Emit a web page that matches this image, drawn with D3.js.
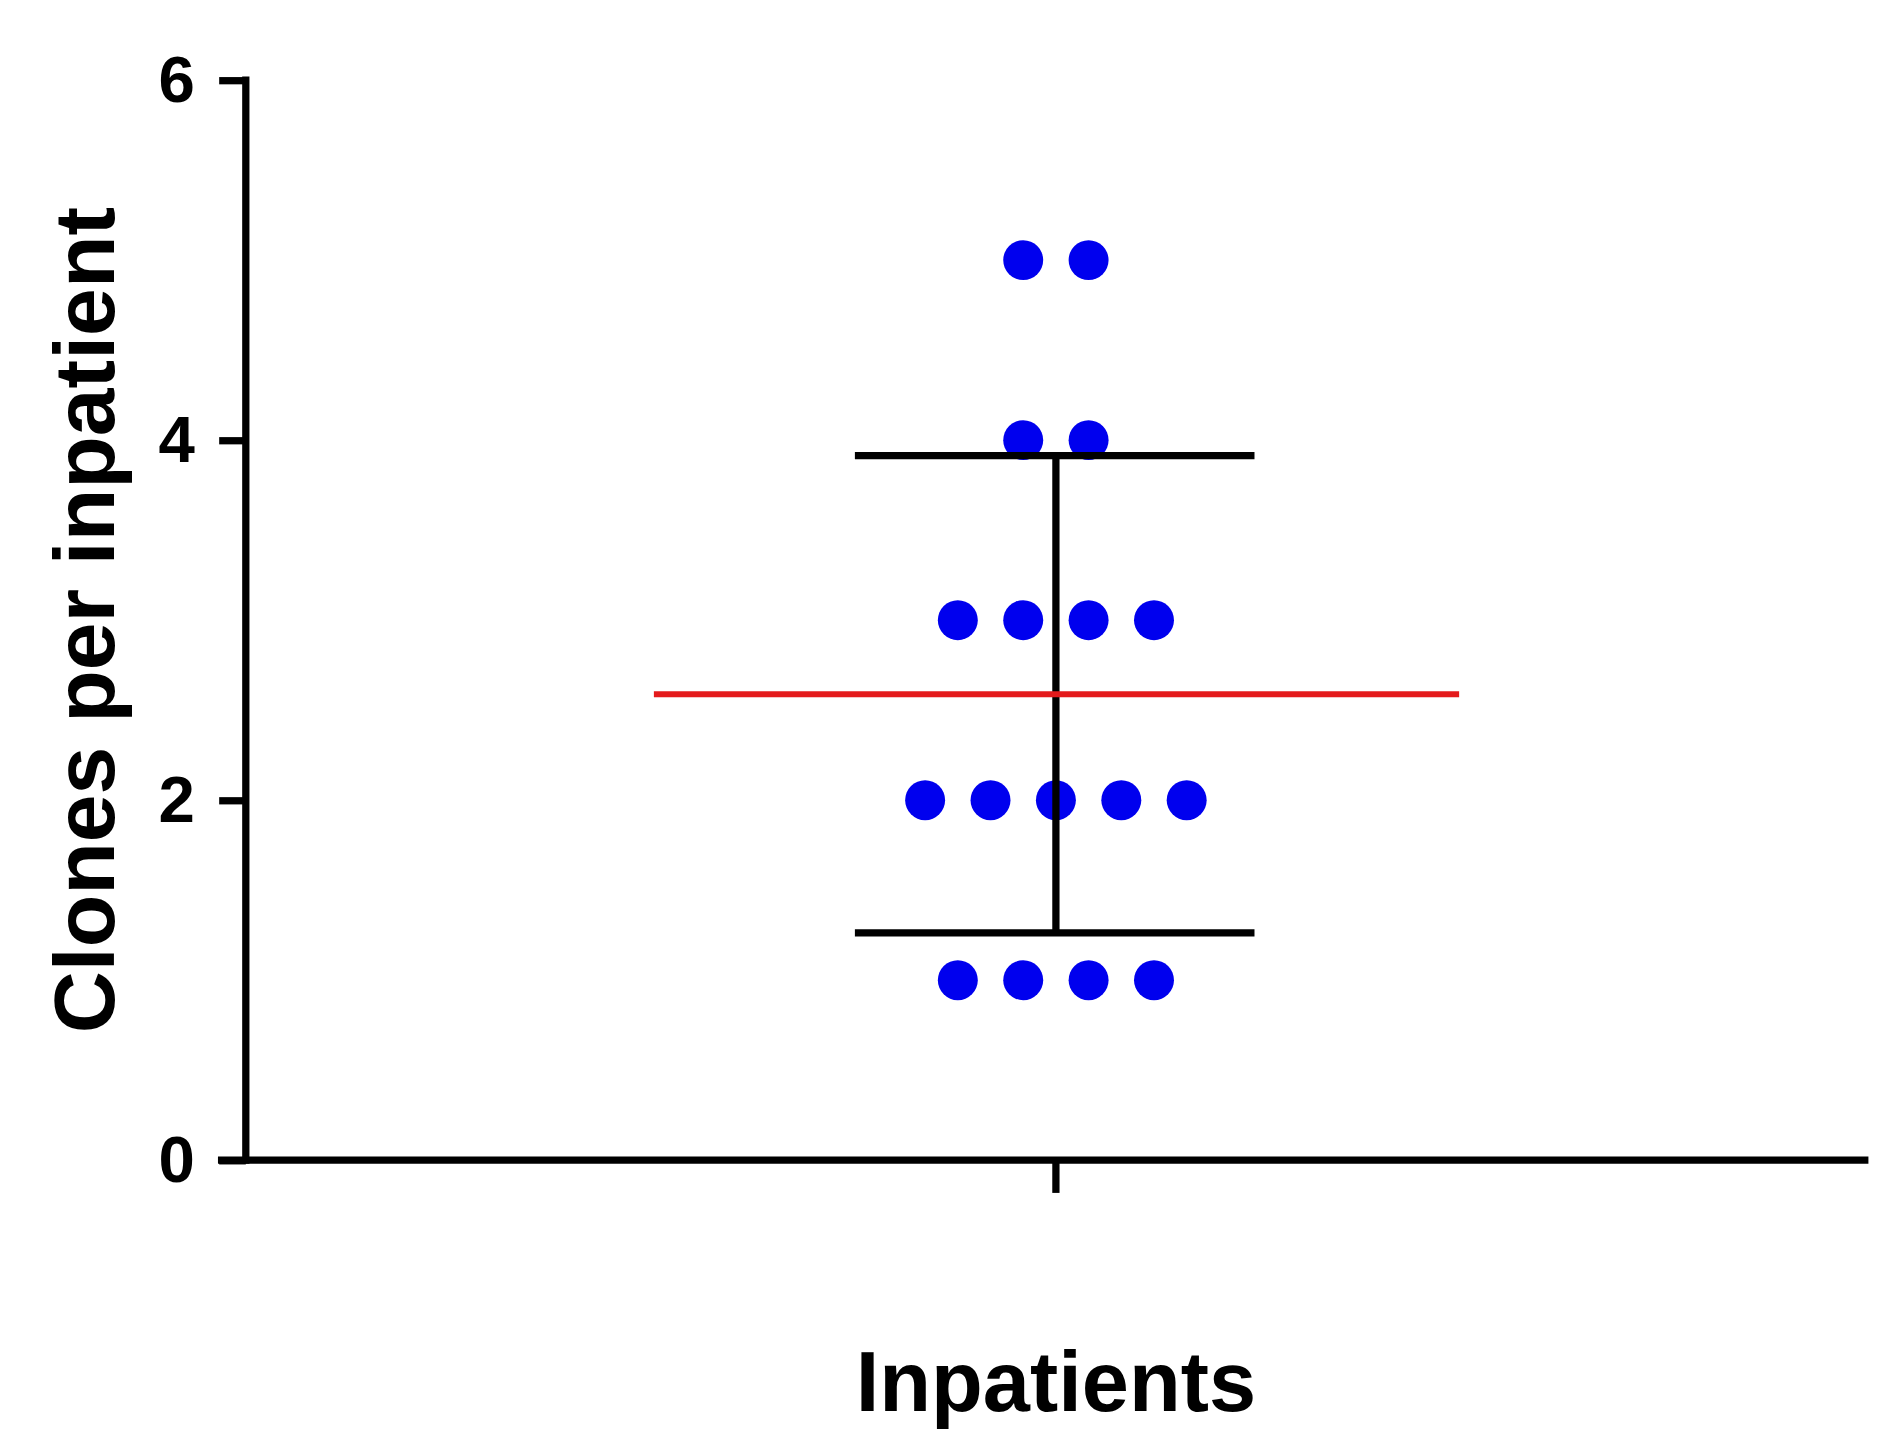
<!DOCTYPE html>
<html>
<head>
<meta charset="utf-8">
<script src="https://cdn.jsdelivr.net/npm/d3@7"></script>
<style>
  body { margin: 0; background: #fff; }
  text { font-family: "Liberation Sans", Arial, sans-serif; font-weight: bold; }
</style>
</head>
<body>
<div id="chart"></div>
<script>
// values: clones per inpatient, grouped by value
var groups = ["Inpatients"];
var cloneValues = [1, 2, 3, 4, 5];
var cloneCounts = [4, 5, 4, 2, 2];
var yTicks = [0, 2, 4, 6];

var width = 1560;
var height = 1198;

var svg = d3.select("#chart")
    .append("svg")
    .attr("width", 1889)
    .attr("height", 1451)
    .attr("viewBox", "0 0 " + width + " " + height);

var y = d3.scaleLinear().domain([0, 6]).range([958, 66]);
var x = d3.scaleBand().domain(groups).range([203, 1543]);
var cx = x("Inpatients") + x.bandwidth() / 2 - 1;
var step = 54;

// individual points
var points = [];
cloneValues.forEach(function(v, i){
    for (var k = 0; k < cloneCounts[i]; k++) {
        points.push({value: v, off: k - (cloneCounts[i] - 1) / 2});
    }
});
var vals = points.map(function(d){ return d.value; });
var mean = d3.mean(vals);
var sd = d3.deviation(vals);

svg.selectAll("circle.pt")
    .data(points)
    .enter().append("circle")
    .attr("class", "pt")
    .attr("cx", function(d){ return cx + d.off * step; })
    .attr("cy", function(d){ return y(d.value); })
    .attr("r", 16.5)
    .style("fill", "#0000ee");

// sd error bar
var eb = svg.append("g").style("stroke", "#000").style("stroke-width", 6);
eb.append("line").attr("x1", cx).attr("x2", cx).attr("y1", y(mean - sd)).attr("y2", y(mean + sd));
[mean - sd, mean + sd].forEach(function(v){
    eb.append("line").attr("x1", cx - 166).attr("x2", cx + 164).attr("y1", y(v)).attr("y2", y(v));
});

// mean line
svg.append("line")
    .attr("x1", cx - 332).attr("x2", cx + 333)
    .attr("y1", y(mean)).attr("y2", y(mean))
    .style("stroke", "#e41a1c")
    .style("stroke-width", 5);

// axes
var yAxis = svg.append("g")
    .attr("transform", "translate(203,0)")
    .call(d3.axisLeft(y).tickValues(yTicks).tickFormat(d3.format("d")).tickSize(22).tickPadding(20));
yAxis.selectAll("text").style("font-size", "54px").style("fill", "#000");

var xAxis = svg.append("g")
    .attr("transform", "translate(0,958)")
    .call(d3.axisBottom(x).tickSize(27).tickFormat(""));
xAxis.selectAll(".tick").attr("transform", "translate(" + cx + ",0)");

svg.selectAll(".domain").attr("d", null);
svg.selectAll(".tick line").style("stroke", "#000").style("stroke-width", 6);

svg.append("line").attr("x1", 203).attr("x2", 203).attr("y1", 63).attr("y2", 961)
    .style("stroke", "#000").style("stroke-width", 6);
svg.append("line").attr("x1", 180).attr("x2", 1543).attr("y1", 958).attr("y2", 958)
    .style("stroke", "#000").style("stroke-width", 6);

svg.append("text")
    .attr("text-anchor", "middle")
    .attr("x", cx)
    .attr("y", 1165)
    .style("font-size", "70px")
    .text("Inpatients");

svg.append("text")
    .attr("text-anchor", "middle")
    .attr("transform", "rotate(-90)")
    .attr("x", -512)
    .attr("y", 94)
    .style("font-size", "71px")
    .text("Clones per inpatient");
</script>
</body>
</html>
